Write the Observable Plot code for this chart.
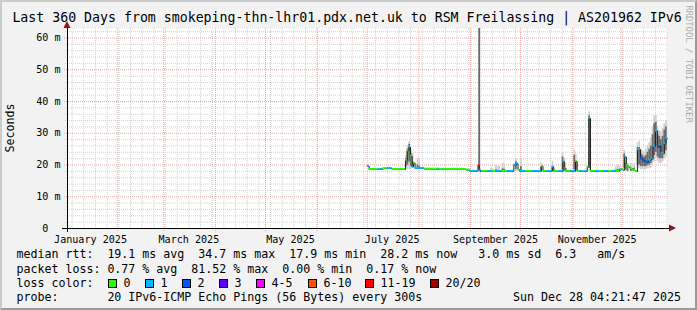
<!DOCTYPE html>
<html><head><meta charset="utf-8">
<script src="https://cdn.jsdelivr.net/npm/d3@7"></script>
<script src="https://cdn.jsdelivr.net/npm/@observablehq/plot@0.6"></script>
<style>
html,body{margin:0;padding:0;background:#fff;}
#wrap{position:relative;width:697px;height:310px;background:#f2f2f2;overflow:hidden;font-family:"DejaVu Sans Mono",monospace;color:#000;}
#wrap svg{position:absolute;left:0;top:0;}
.t{position:absolute;white-space:pre;line-height:14px;}
.sw{position:absolute;width:7px;height:7px;border:1px solid #000;}
#border{position:absolute;left:0;top:0;width:697px;height:310px;box-sizing:border-box;border-top:2px solid #cbcbcb;border-left:2px solid #cbcbcb;border-right:2px solid #9a9a9a;border-bottom:2px solid #9a9a9a;pointer-events:none;}
</style></head><body>
<div id="wrap"></div>
<script>
// ---------- data ----------
const startTime = "2025-01-02T04:21:47";
const endTime = "2025-12-28T04:21:47";
const yMax = 63;
const yMajorTicks = [0, 10, 20, 30, 40, 50, 60];
const yMajorLabels = ["0", "10 m", "20 m", "30 m", "40 m", "50 m", "60 m"];
const yMinorTicks = [2,4,6,8,12,14,16,18,22,24,26,28,32,34,36,38,42,44,46,48,52,54,56,58,62];
const monthStarts = ["2025-02-01","2025-03-01","2025-04-01","2025-05-01","2025-06-01","2025-07-01","2025-08-01","2025-09-01","2025-10-01","2025-11-01","2025-12-01"];
const weekStarts = ["2025-01-05","2025-01-12","2025-01-19","2025-01-26","2025-02-02","2025-02-09","2025-02-16","2025-02-23","2025-03-02","2025-03-09","2025-03-16","2025-03-23","2025-03-30","2025-04-06","2025-04-13","2025-04-20","2025-04-27","2025-05-04","2025-05-11","2025-05-18","2025-05-25","2025-06-01","2025-06-08","2025-06-15","2025-06-22","2025-06-29","2025-07-06","2025-07-13","2025-07-20","2025-07-27","2025-08-03","2025-08-10","2025-08-17","2025-08-24","2025-08-31","2025-09-07","2025-09-14","2025-09-21","2025-09-28","2025-10-05","2025-10-12","2025-10-19","2025-10-26","2025-11-02","2025-11-09","2025-11-16","2025-11-23","2025-11-30","2025-12-07","2025-12-14","2025-12-21","2025-12-28"];
const xLabelDates = ["2025-01-16","2025-03-16","2025-05-16","2025-07-16","2025-09-16","2025-11-16"];
const xLabels = ["January 2025","March 2025","May 2025","July 2025","September 2025","November 2025"];

const lossLabels = ["0","1","2","3","4-5","6-10","11-19","20/20"];
const lossColors = ["#26ff00","#00b8ff","#0059ff","#5e00ff","#ff00ff","#ff5500","#ff0000","#a10000"];

// median rtt (ms) segments: start time, value, loss class
const medianStart = ["2025-07-01T04:00","2025-07-02T04:00","2025-07-07T12:00","2025-07-10T12:00","2025-07-13T00:00","2025-07-16T00:00","2025-07-24T00:00","2025-07-25T00:00","2025-07-26T00:00","2025-07-27T00:00","2025-07-28T00:00","2025-07-28T18:00","2025-07-29T18:00","2025-08-04T12:00","2025-08-12T12:00","2025-08-13T12:00","2025-08-29T12:00","2025-08-31T18:00","2025-09-05T12:00","2025-09-06T06:00","2025-09-06T20:00","2025-09-07T12:00","2025-09-11T00:00","2025-09-14T00:00","2025-09-16T12:00","2025-09-20T00:00","2025-09-23T00:00","2025-09-27T00:00","2025-09-28T12:00","2025-09-29T12:00","2025-09-30T12:00","2025-10-04T00:00","2025-10-08T00:00","2025-10-13T12:00","2025-10-14T12:00","2025-10-17T00:00","2025-10-20T00:00","2025-10-21T00:00","2025-10-24T00:00","2025-10-26T12:00","2025-10-27T12:00","2025-10-28T06:00","2025-10-31T00:00","2025-11-03T00:00","2025-11-04T00:00","2025-11-05T12:00","2025-11-07T12:00","2025-11-08T12:00","2025-11-10T00:00","2025-11-11T00:00","2025-11-12T00:00","2025-11-15T00:00","2025-11-17T12:00","2025-11-20T00:00","2025-11-23T00:00","2025-11-25T00:00","2025-11-27T00:00","2025-11-29T12:00","2025-11-30T12:00","2025-12-01T12:00","2025-12-02T12:00","2025-12-03T12:00","2025-12-04T12:00","2025-12-05T18:00","2025-12-07T12:00","2025-12-09T00:00","2025-12-10T06:00","2025-12-12T00:00","2025-12-13T12:00","2025-12-15T06:00","2025-12-16T18:00","2025-12-18T12:00","2025-12-19T12:00","2025-12-21T00:00","2025-12-22T06:00","2025-12-23T12:00","2025-12-24T06:00","2025-12-25T06:00","2025-12-26T06:00","2025-12-27T06:00"];
const medianMs = [19.6,18.6,18.6,18.9,18.9,18.6,21.5,24.5,25.6,22.8,19.4,20.6,18.9,18.7,18.7,18.6,18.4,18.0,19.8,18.5,18.0,18.0,18.0,18.0,18.0,18.0,18.0,20.0,20.4,18.5,18.0,18.0,18.0,19.6,18.0,18.0,19.3,18.0,18.0,21.0,19.0,18.0,18.0,21.1,18.0,18.0,18.0,18.0,19.3,34.7,18.0,18.0,18.0,18.0,18.0,18.0,18.1,18.5,18.7,18.4,22.5,19.9,19.4,18.8,18.3,18.0,24.8,22.0,21.2,20.9,21.5,22.0,25.9,30.7,25.6,26.2,23.7,23.6,26.7,28.3];
const medianLoss = [1,0,1,0,1,0,0,0,1,0,1,0,1,0,1,0,0,1,6,4,2,0,1,0,1,0,1,1,1,0,1,0,1,0,0,1,1,0,1,1,0,0,1,0,0,1,0,1,0,1,0,1,0,1,0,1,0,1,0,0,1,0,0,0,0,0,1,2,2,2,1,1,1,1,2,1,1,1,1,1];

// smoke (ms): day, outer low/high, core low/high
const smokeDay = ["2025-07-24","2025-07-25","2025-07-26","2025-07-27","2025-07-28","2025-07-31","2025-08-01","2025-09-06","2025-09-13","2025-09-14","2025-09-16","2025-09-17","2025-09-18","2025-09-20","2025-09-21","2025-09-28","2025-10-01","2025-10-13","2025-10-20","2025-10-26","2025-10-27","2025-11-02","2025-11-03","2025-11-11","2025-11-27","2025-11-28","2025-11-29","2025-12-02","2025-12-03","2025-12-04","2025-12-06","2025-12-08","2025-12-10","2025-12-11","2025-12-12","2025-12-13","2025-12-14","2025-12-15","2025-12-16","2025-12-17","2025-12-18","2025-12-19","2025-12-20","2025-12-21","2025-12-22","2025-12-23","2025-12-24","2025-12-25","2025-12-26","2025-12-27"];
const smokeLo =     [18.6,18.6,18.6,18.6,18.9,18.9,18.9,18.0,18.0,18.0,18.0,18.0,18.0,18.0,18.0,18.0,18.0,18.0,18.0,18.0,18.0,18.0,18.0,18.0,18.0,18.0,18.0,18.0,18.0,18.0,18.0,18.0,19.0,19.0,18.5,18.5,18.5,18.5,18.8,19.0,19.0,20.0,21.0,22.0,21.0,20.5,20.5,21.0,22.0,22.5];
const smokeHi =     [23.0,26.0,27.3,24.5,23.7,22.2,22.0,63.0,19.0,19.0,19.9,19.5,19.5,20.5,20.3,22.0,22.1,20.6,21.2,23.6,22.0,24.6,23.5,36.7,19.5,19.9,19.8,24.6,22.5,20.5,20.5,20.5,27.0,27.5,25.0,24.5,24.0,25.0,26.0,27.0,28.5,32.0,35.5,35.6,32.0,31.0,30.5,31.5,33.0,34.0];
const smokeCoreLo = [19.5,20.0,21.0,19.5,19.2,19.0,19.0,18.5,18.0,18.0,18.0,18.0,18.0,18.0,18.0,18.5,18.2,18.0,18.0,18.5,18.0,18.5,18.0,19.0,18.0,18.0,18.0,19.0,18.5,18.0,18.0,18.0,20.0,20.0,19.5,19.5,19.5,19.5,19.8,20.0,20.5,21.5,23.0,24.0,22.5,22.0,22.0,22.0,23.5,24.5];
const smokeCoreHi = [22.0,25.0,26.5,23.5,21.0,20.0,19.5,63.0,18.2,18.2,18.5,18.3,18.3,18.8,18.6,21.0,19.5,19.2,19.6,22.5,20.0,23.0,21.0,35.5,18.4,18.6,18.6,23.5,20.5,19.3,19.0,19.0,25.5,25.5,23.5,23.0,22.5,23.0,24.0,25.0,26.0,29.5,33.0,33.5,29.5,29.0,28.0,29.0,31.0,32.0];

// legend texts
const legendRtt = "median rtt:  19.1 ms avg  34.7 ms max  17.9 ms min  28.2 ms now   3.0 ms sd  6.3   am/s";
const legendLoss = "packet loss: 0.77 % avg  81.52 % max  0.00 % min  0.17 % now";
const legendProbe = "probe:       20 IPv6-ICMP Echo Pings (56 Bytes) every 300s";
const legendDate = "Sun Dec 28 04:21:47 2025";

// ---------- build ----------
const utc = s => new Date(s.length <= 10 ? s + "T00:00:00Z" : s + "Z");
const t0 = utc(startTime), t1 = utc(endTime);
const segs = medianStart.map((s, i) => ({
  a: utc(s), b: i + 1 < medianStart.length ? utc(medianStart[i + 1]) : t1,
  v: medianMs[i], c: lossColors[medianLoss[i]]
}));
const linePts = segs.map(d => ({t: d.a, v: d.v})).concat([{t: t1, v: segs[segs.length - 1].v}]);
const smoke = smokeDay.map((s, i) => ({a: utc(s), b: d3.utcDay.offset(utc(s), 1), lo: smokeLo[i], hi: smokeHi[i], clo: smokeCoreLo[i], chi: smokeCoreHi[i]}));
const yLab = yMajorTicks.map((v, i) => ({v, s: yMajorLabels[i].includes(" ") ? yMajorLabels[i] : yMajorLabels[i] + "\u00a0\u00a0"}));

const GRID = "#d2d2d2", MGRID = "#eaa9a9", ARROW = "#8c1515";

function arrows(index, scales) {
  const g = d3.create("svg:g");
  const x0 = scales.x(t0), x1 = scales.x(t1), y0 = scales.y(0), yt = scales.y(yMax);
  g.append("path").attr("d", `M${x1 + 2},${y0 - 3.5}L${x1 + 9},${y0}L${x1 + 2},${y0 + 3.5}Z`).attr("fill", ARROW);
  g.append("path").attr("d", `M${x0 - 3.5},${yt}L${x0},${yt - 7}L${x0 + 3.5},${yt}Z`).attr("fill", ARROW);
  return g.node();
}

const svg = Plot.plot({
  width: 697, height: 250,
  marginLeft: 67, marginRight: 30, marginTop: 28, marginBottom: 22,
  style: {background: "transparent", fontFamily: "DejaVu Sans Mono", overflow: "visible"},
  x: {type: "utc", domain: [t0, t1], axis: null},
  y: {domain: [0, yMax], axis: null},
  color: {type: "identity"},
  marks: [
    Plot.frame({fill: "#ffffff", stroke: null}),
    Plot.ruleX(weekStarts, {x: d => utc(d), stroke: GRID, strokeDasharray: "1,1", insetBottom: -2}),
    Plot.ruleY(yMinorTicks, {y: d => d, stroke: GRID, strokeDasharray: "1,1", insetLeft: -2}),
    Plot.ruleX(monthStarts, {x: d => utc(d), stroke: MGRID, strokeDasharray: "1,1", insetBottom: -3}),
    Plot.ruleY(yMajorTicks.slice(1), {y: d => d, stroke: MGRID, strokeDasharray: "1,1", insetLeft: -3}),
    Plot.rect(smoke, {x1: "a", x2: "b", y1: "lo", y2: "hi", fill: "#d0d0d0"}),
    Plot.rect(smoke, {x1: "a", x2: "b", y1: "clo", y2: "chi", fill: "#6a6a6a"}),
    Plot.line(linePts, {x: "t", y: "v", curve: "step-after", stroke: "#202020", strokeWidth: 1}),
    Plot.rect(segs, {x1: "a", x2: "b", y1: d => d.v - 0.3, y2: d => d.v + 0.3, fill: "c"}),
    Plot.ruleY([0], {stroke: "#000", insetLeft: -5, insetRight: -2}),
    Plot.ruleX([t0], {stroke: "#000", insetBottom: -4}),
    arrows,
    Plot.text(yLab, {x: () => t0, y: "v", text: "s", textAnchor: "end", dx: -7, fontSize: 10.1, fill: "#000"}),
    Plot.text(xLabelDates, {x: d => utc(d), y: () => 0, text: (d, i) => xLabels[i], dy: 11, fontSize: 10.1, fill: "#000"})
  ]
});

const wrap = document.getElementById("wrap");
wrap.appendChild(svg);

function txt(s, x, cy, size, extra) {
  const e = document.createElement("div");
  e.className = "t";
  e.textContent = s;
  e.style.left = x + "px";
  e.style.top = (cy - 7) + "px";
  e.style.fontSize = size + "px";
  if (extra) Object.assign(e.style, extra);
  wrap.appendChild(e);
  return e;
}
function rot(s, cx, cy, size, deg, color) {
  const e = document.createElement("div");
  e.className = "t";
  e.textContent = s;
  e.style.left = cx + "px";
  e.style.top = cy + "px";
  e.style.fontSize = size + "px";
  e.style.color = color;
  e.style.transform = `translate(-50%,-50%) rotate(${deg}deg)`;
  wrap.appendChild(e);
}

const FS = 11.63;
txt("Last 360 Days from smokeping-thn-lhr01.pdx.net.uk to RSM Freilassing | AS201962 IPv6", 12.4, 18, 13.24);
rot("Seconds", 10, 128, FS, -90, "#000");
rot("RRDTOOL / TOBI OETIKER", 688.5, 64, 8.9, 90, "#aaaaaa");

txt(legendRtt, 16.4, 254, FS);
txt(legendLoss, 16.4, 268.5, FS);
txt("loss color:", 16.4, 283, FS);
const swatchX = [108, 145, 182, 219, 256, 308, 365, 430];
lossLabels.forEach((l, i) => {
  const b = document.createElement("div");
  b.className = "sw";
  b.style.left = swatchX[i] + "px";
  b.style.top = "278.5px";
  b.style.background = lossColors[i];
  wrap.appendChild(b);
  txt(l, swatchX[i] + 15.5, 283, FS);
});
txt(legendProbe, 16.4, 297, FS);
txt(legendDate, 0, 297, FS, {left: "auto", right: (697 - 681) + "px"});

const border = document.createElement("div");
border.id = "border";
wrap.appendChild(border);
</script></body></html>
